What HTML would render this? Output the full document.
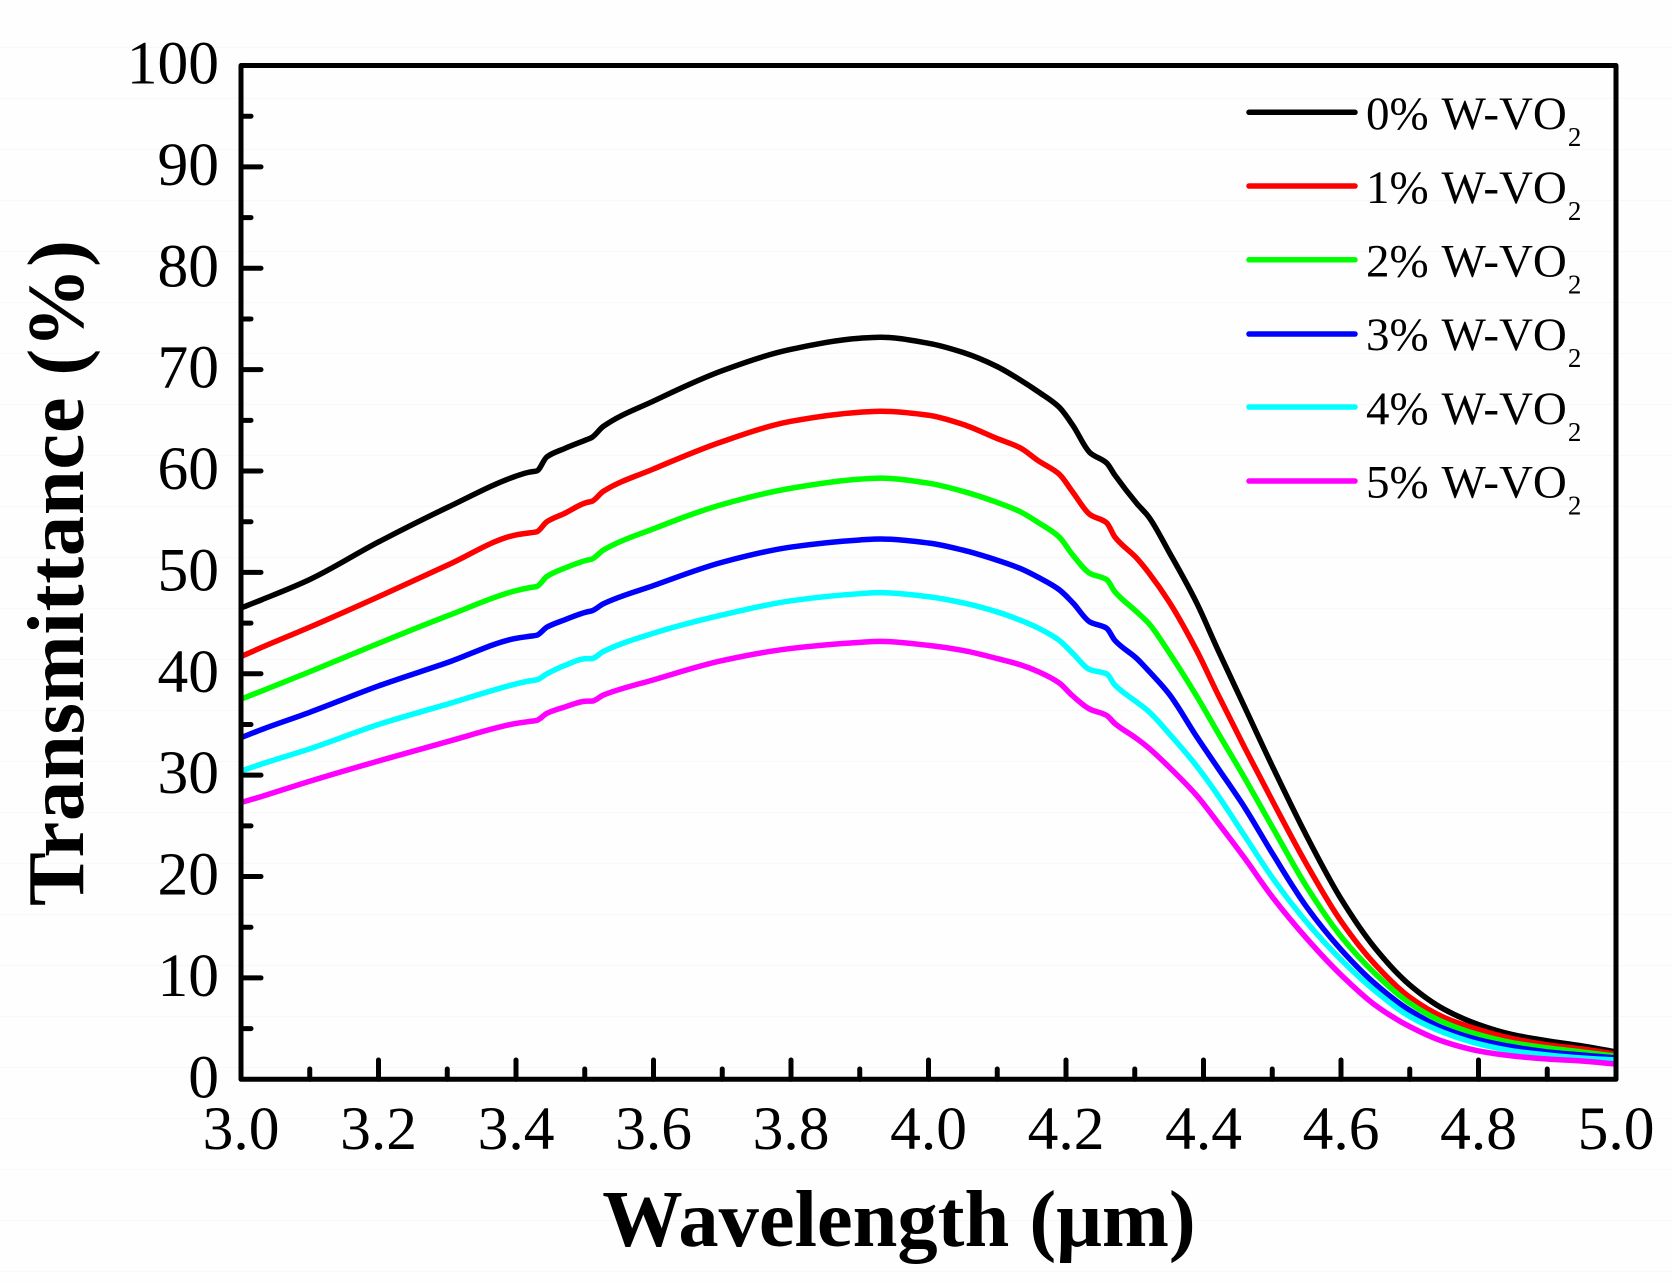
<!DOCTYPE html>
<html>
<head>
<meta charset="utf-8">
<title>Transmittance vs Wavelength</title>
<style>
html,body{margin:0;padding:0;background:#fefefe;}
svg{display:block;}
text{font-family:"Liberation Serif",serif;fill:#000;}
.tick{font-size:61.5px;}
.legend{font-size:47px;word-spacing:2px;}
.sub{font-size:27px;}
.title{font-size:80.5px;font-weight:bold;}
</style>
</head>
<body>
<svg id="chart" xmlns="http://www.w3.org/2000/svg" width="1672" height="1285" viewBox="0 0 1672 1285">
  <rect x="0" y="0" width="1672" height="1285" fill="#fefefe"/>
  <g id="bgLines"></g>
  <g id="series"></g>
  <rect x="241" y="65.5" width="1375" height="1013.8" fill="none" stroke="#000" stroke-width="5" stroke-linejoin="round"/>
  <g id="ticks"></g>
  <g id="tickLabels"></g>
  <text class="title" x="899" y="1246" text-anchor="middle">Wavelength (μm)</text>
  <text class="title" transform="translate(83,573) rotate(-90)" text-anchor="middle" textLength="666" lengthAdjust="spacing">Transmittance (%)</text>
  <g>
    <g>
      <line x1="1249" x2="1355" y1="112.3" y2="112.3" stroke="#000" stroke-width="5.5" stroke-linecap="round"/>
      <text class="legend" x="1366" y="129">0% W-VO<tspan class="sub" dx="1" dy="17">2</tspan></text>
    </g>
    <g>
      <line x1="1249" x2="1355" y1="186" y2="186" stroke="#f00" stroke-width="5.5" stroke-linecap="round"/>
      <text class="legend" x="1366" y="203">1% W-VO<tspan class="sub" dx="1" dy="17">2</tspan></text>
    </g>
    <g>
      <line x1="1249" x2="1355" y1="259.8" y2="259.8" stroke="#0f0" stroke-width="5.5" stroke-linecap="round"/>
      <text class="legend" x="1366" y="276.5">2% W-VO<tspan class="sub" dx="1" dy="17">2</tspan></text>
    </g>
    <g>
      <line x1="1249" x2="1355" y1="334" y2="334" stroke="#00f" stroke-width="5.5" stroke-linecap="round"/>
      <text class="legend" x="1366" y="350">3% W-VO<tspan class="sub" dx="1" dy="17">2</tspan></text>
    </g>
    <g>
      <line x1="1249" x2="1355" y1="407" y2="407" stroke="#0ff" stroke-width="5.5" stroke-linecap="round"/>
      <text class="legend" x="1366" y="424">4% W-VO<tspan class="sub" dx="1" dy="17">2</tspan></text>
    </g>
    <g>
      <line x1="1249" x2="1355" y1="481" y2="481" stroke="#f0f" stroke-width="5.5" stroke-linecap="round"/>
      <text class="legend" x="1366" y="497.5">5% W-VO<tspan class="sub" dx="1" dy="17">2</tspan></text>
    </g>
  </g>
</svg>
<script>
const wavelengths = [3.0,3.03,3.1,3.2,3.3,3.4,3.42,3.43,3.445,3.47,3.503,3.51,3.527,3.6,3.7,3.8,3.9,3.93,4.0,4.05,4.1,4.133,4.16,4.19,4.21,4.235,4.259,4.271,4.303,4.32,4.35,4.39,4.42,4.46,4.5,4.55,4.6,4.65,4.7,4.75,4.8,4.85,4.9,4.95,5.0];
const w0 = [46.5,47.3,49.3,53.0,56.4,59.5,59.9,60.0,61.4,62.2,63.1,63.3,64.4,66.9,69.9,72.0,73.1,73.2,72.6,71.7,70.3,69.0,67.8,66.3,64.5,61.8,60.8,59.6,56.8,55.5,52.0,47.0,42.5,36.7,30.9,24.0,17.8,12.9,9.3,6.9,5.4,4.4,3.8,3.3,2.7];
const w1 = [41.7,42.6,44.6,47.6,50.7,53.7,53.9,54.0,55.0,55.8,56.9,57.0,58.0,60.2,62.9,64.9,65.8,65.9,65.5,64.6,63.2,62.3,61.0,59.7,57.9,55.7,54.9,53.5,51.4,50.0,47.1,42.3,38.1,32.7,27.5,21.2,15.6,11.3,8.1,6.1,4.9,4.0,3.4,3.0,2.5];
const w2 = [37.5,38.3,40.2,43.0,45.7,48.2,48.5,48.6,49.6,50.4,51.2,51.3,52.2,54.3,56.7,58.3,59.2,59.3,58.8,58.0,56.9,56.0,54.9,53.5,51.7,49.9,49.3,48.1,46.1,45.0,42.1,37.8,34.3,29.7,24.9,19.0,14.1,10.4,7.5,5.6,4.4,3.6,3.1,2.7,2.3];
const w3 = [33.7,34.5,36.2,38.8,41.1,43.5,43.7,43.8,44.6,45.3,46.1,46.2,46.9,48.7,51.0,52.5,53.2,53.3,52.9,52.2,51.2,50.4,49.5,48.3,47.0,45.1,44.5,43.3,41.5,40.3,38.0,33.8,30.8,26.8,22.3,17.0,12.8,9.4,6.8,5.0,3.9,3.2,2.7,2.4,2.1];
const w4 = [30.4,31.1,32.6,35.0,37.0,39.0,39.3,39.4,40.0,40.8,41.5,41.5,42.2,44.0,45.8,47.2,47.9,48.0,47.6,47.0,46.1,45.3,44.5,43.3,42.0,40.4,40.0,38.9,37.2,36.3,34.1,30.9,28.1,24.0,19.9,15.5,11.8,8.7,6.2,4.6,3.5,2.8,2.4,2.1,1.9];
const w5 = [27.3,27.9,29.4,31.4,33.3,35.1,35.3,35.4,36.1,36.7,37.3,37.3,37.9,39.4,41.3,42.5,43.1,43.2,42.8,42.3,41.5,40.9,40.2,39.1,37.8,36.5,35.9,35.1,33.6,32.7,30.8,28.0,25.4,21.8,18.0,13.9,10.3,7.3,5.2,3.7,2.8,2.3,2.0,1.8,1.5];
const xTickLabels = ["3.0","3.2","3.4","3.6","3.8","4.0","4.2","4.4","4.6","4.8","5.0"];
const yTickLabels = ["0","10","20","30","40","50","60","70","80","90","100"];

const NS = "http://www.w3.org/2000/svg";
const xScale = v => 241 + (v - 3) * 687.5;
const yScale = v => 1079.3 - v * 10.138;

const bgLines = document.getElementById("bgLines");
for (let y = 47; y < 1285; y += 51) {
  const l = document.createElementNS(NS, "line");
  
  
  l.setAttribute("x1", 0); l.setAttribute("x2", 1672);
  l.setAttribute("y1", y + 0.5); l.setAttribute("y2", y + 0.5);
  l.setAttribute("stroke", "#f8f8f8"); l.setAttribute("stroke-width", 1);
  bgLines.appendChild(l);
}

/* Monotone cubic path through the data points in pixel space */
function smoothPath(values) {
  const xs = wavelengths.map(xScale);
  const ys = values.map(yScale);
  const n = xs.length;
  const d = [];
  for (let i = 0; i < n - 1; i++) d.push((ys[i + 1] - ys[i]) / (xs[i + 1] - xs[i]));
  const m = [d[0]];
  for (let i = 1; i < n - 1; i++) {
    if (d[i - 1] * d[i] <= 0) { m.push(0); continue; }
    const h0 = xs[i] - xs[i - 1], h1 = xs[i + 1] - xs[i];
    const w1 = 2 * h1 + h0, w2 = h1 + 2 * h0;
    m.push((w1 + w2) / (w1 / d[i - 1] + w2 / d[i]));
  }
  m.push(d[n - 2]);
  let s = "M" + xs[0].toFixed(2) + " " + ys[0].toFixed(2);
  for (let i = 0; i < n - 1; i++) {
    const h = (xs[i + 1] - xs[i]) / 3;
    s += "C" + (xs[i] + h).toFixed(2) + " " + (ys[i] + m[i] * h).toFixed(2) + " " +
         (xs[i + 1] - h).toFixed(2) + " " + (ys[i + 1] - m[i + 1] * h).toFixed(2) + " " +
         xs[i + 1].toFixed(2) + " " + ys[i + 1].toFixed(2);
  }
  return s;
}

const seriesGroup = document.getElementById("series");
function drawSeries(values, color, name) {
  const p = document.createElementNS(NS, "path");
  
  
  p.setAttribute("d", smoothPath(values));
  p.setAttribute("fill", "none");
  p.setAttribute("stroke", color);
  p.setAttribute("stroke-width", 5.5);
  p.setAttribute("stroke-linejoin", "round");
  seriesGroup.appendChild(p);
}
drawSeries(w0, "#000000", "series-0-percent");
drawSeries(w1, "#ff0000", "series-1-percent");
drawSeries(w2, "#00ff00", "series-2-percent");
drawSeries(w3, "#0000ff", "series-3-percent");
drawSeries(w4, "#00ffff", "series-4-percent");
drawSeries(w5, "#ff00ff", "series-5-percent");

const ticks = document.getElementById("ticks");
function tick(x1, y1, x2, y2, name) {
  const l = document.createElementNS(NS, "line");
  
  
  l.setAttribute("x1", x1); l.setAttribute("y1", y1);
  l.setAttribute("x2", x2); l.setAttribute("y2", y2);
  l.setAttribute("stroke", "#000"); l.setAttribute("stroke-width", 5);
  l.setAttribute("stroke-linecap", "round");
  ticks.appendChild(l);
}
for (let i = 1; i < 20; i++) {
  const x = xScale(3 + i * 0.1);
  tick(x, 1079.3, x, i % 2 === 0 ? 1060 : 1069, 'x-tick');
}
for (let i = 1; i < 20; i++) {
  const y = yScale(i * 5);
  tick(241, y, i % 2 === 0 ? 261 : 251, y, 'y-tick');
}

const labelsGroup = document.getElementById("tickLabels");
xTickLabels.forEach(s => {
  const t = document.createElementNS(NS, "text");
  
  
  t.setAttribute("class", "tick");
  t.setAttribute("x", xScale(parseFloat(s)));
  t.setAttribute("y", 1149);
  t.setAttribute("text-anchor", "middle");
  t.textContent = s;
  labelsGroup.appendChild(t);
});
yTickLabels.forEach(s => {
  const t = document.createElementNS(NS, "text");
  
  
  t.setAttribute("class", "tick");
  t.setAttribute("x", 219);
  t.setAttribute("y", yScale(parseFloat(s)) + 18);
  t.setAttribute("text-anchor", "end");
  t.textContent = s;
  labelsGroup.appendChild(t);
});
</script>
</body>
</html>
